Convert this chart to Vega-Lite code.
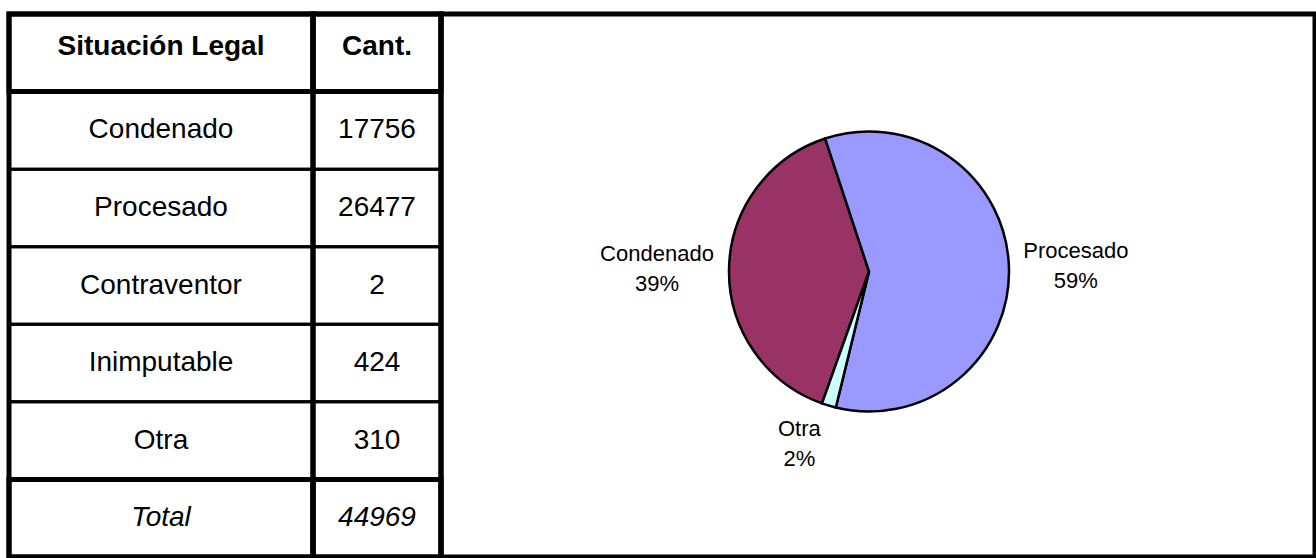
{
  "$schema": "https://vega.github.io/schema/vega-lite/v6.json",
  "background": "white",
  "padding": {"left": 4, "top": 9, "right": 0, "bottom": 0},
  "autosize": {"type": "pad"},
  "bounds": "flush",
  "spacing": 0,
  "config": {
    "font": "Liberation Sans",
    "view": {"stroke": "black", "strokeWidth": 5},
    "concat": {"spacing": 0}
  },
  "datasets": {
    "tabla": [
      {"situacion": "Situación Legal", "cant": "Cant.", "tipo": "encabezado"},
      {"situacion": "Condenado", "cant": "17756", "tipo": "fila"},
      {"situacion": "Procesado", "cant": "26477", "tipo": "fila"},
      {"situacion": "Contraventor", "cant": "2", "tipo": "fila"},
      {"situacion": "Inimputable", "cant": "424", "tipo": "fila"},
      {"situacion": "Otra", "cant": "310", "tipo": "fila"},
      {"situacion": "Total", "cant": "44969", "tipo": "total"}
    ],
    "torta": [
      {"categoria": "Condenado", "cantidad": 17756, "etiqueta": "Condenado\n39%"},
      {"categoria": "Procesado", "cantidad": 26477, "etiqueta": "Procesado\n59%"},
      {"categoria": "Otra", "cantidad": 736, "etiqueta": "Otra\n2%"}
    ]
  },
  "hconcat": [
    {
      "width": 304,
      "height": 543,
      "data": {"name": "tabla"},
      "encoding": {
        "y": {
          "field": "situacion",
          "type": "nominal",
          "sort": ["Situación Legal", "Condenado", "Procesado", "Contraventor", "Inimputable", "Otra", "Total"],
          "axis": null,
          "scale": {"paddingInner": 0, "paddingOuter": 0}
        }
      },
      "layer": [
        {
          "mark": {"type": "rect", "fillOpacity": 0, "stroke": "black"},
          "encoding": {"strokeWidth": {"condition": {"test": "datum.tipo !== 'fila'", "value": 5}, "value": 3}}
        },
        {
          "transform": [{"filter": "datum.tipo === 'encabezado'"}],
          "mark": {"type": "text", "fontSize": 28, "fontWeight": "bold", "dy": -6, "color": "black"},
          "encoding": {"text": {"field": "situacion"}}
        },
        {
          "transform": [{"filter": "datum.tipo === 'fila'"}],
          "mark": {"type": "text", "fontSize": 28, "color": "black"},
          "encoding": {"text": {"field": "situacion"}}
        },
        {
          "transform": [{"filter": "datum.tipo === 'total'"}],
          "mark": {"type": "text", "fontSize": 28, "fontStyle": "italic", "color": "black"},
          "encoding": {"text": {"field": "situacion"}}
        }
      ]
    },
    {
      "width": 128,
      "height": 543,
      "data": {"name": "tabla"},
      "encoding": {
        "y": {
          "field": "situacion",
          "type": "nominal",
          "sort": ["Situación Legal", "Condenado", "Procesado", "Contraventor", "Inimputable", "Otra", "Total"],
          "axis": null,
          "scale": {"paddingInner": 0, "paddingOuter": 0}
        }
      },
      "layer": [
        {
          "mark": {"type": "rect", "fillOpacity": 0, "stroke": "black"},
          "encoding": {"strokeWidth": {"condition": {"test": "datum.tipo !== 'fila'", "value": 5}, "value": 3}}
        },
        {
          "transform": [{"filter": "datum.tipo === 'encabezado'"}],
          "mark": {"type": "text", "fontSize": 28, "fontWeight": "bold", "dy": -6, "color": "black"},
          "encoding": {"text": {"field": "cant"}}
        },
        {
          "transform": [{"filter": "datum.tipo === 'fila'"}],
          "mark": {"type": "text", "fontSize": 28, "color": "black"},
          "encoding": {"text": {"field": "cant"}}
        },
        {
          "transform": [{"filter": "datum.tipo === 'total'"}],
          "mark": {"type": "text", "fontSize": 28, "fontStyle": "italic", "color": "black"},
          "encoding": {"text": {"field": "cant"}}
        }
      ]
    },
    {
      "width": 874,
      "height": 543,
      "view": {"stroke": "black", "strokeWidth": 5},
      "data": {"name": "torta"},
      "encoding": {
        "theta": {"field": "cantidad", "type": "quantitative", "stack": true, "scale": {"range": [3.381, 9.664]}},
        "order": {"field": "cantidad", "sort": "ascending"}
      },
      "layer": [
        {
          "mark": {"type": "arc", "outerRadius": 140, "stroke": "black", "strokeWidth": 2.5, "xOffset": -9, "yOffset": -14},
          "encoding": {
            "color": {
              "field": "categoria",
              "type": "nominal",
              "legend": null,
              "scale": {"domain": ["Condenado", "Procesado", "Otra"], "range": ["#993366", "#9999FF", "#CCFFFF"]}
            }
          }
        },
        {
          "mark": {
            "type": "text",
            "radius": {"expr": "datum.categoria === 'Otra' ? 180 : 207"},
            "dx": {"expr": "datum.categoria === 'Otra' ? -18 : (datum.categoria === 'Condenado' ? -5 : 0)"},
            "dy": {"expr": "datum.categoria === 'Procesado' ? -12 : -15"},
            "fontSize": 22,
            "lineBreak": "\n",
            "lineHeight": 30,
            "color": "black",
            "xOffset": -9,
            "yOffset": -14
          },
          "encoding": {"text": {"field": "etiqueta"}}
        }
      ]
    }
  ]
}
